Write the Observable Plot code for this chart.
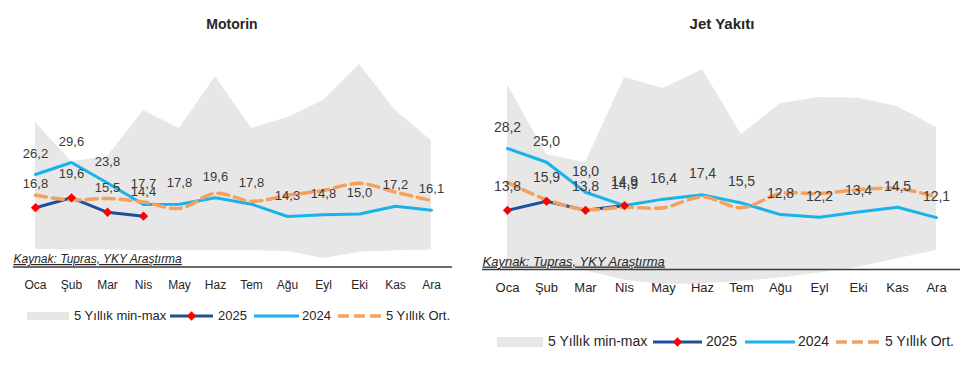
<!DOCTYPE html>
<html><head><meta charset="utf-8">
<script src="https://cdn.jsdelivr.net/npm/d3@7"></script>
<script src="https://cdn.jsdelivr.net/npm/@observablehq/plot@0.6"></script>
<style>
body{margin:0;background:#fff;font-family:"Liberation Sans",Arial,sans-serif;}
#wrap{position:relative;width:960px;height:372px;overflow:hidden;background:#fff;}
.panel{position:absolute;top:0;height:372px;width:480px;}
.title{position:absolute;top:16px;left:0;text-align:center;font-weight:bold;color:#262626;line-height:16px;}
.chart{position:absolute;top:40px;left:0;}
.kaynak text{text-decoration:underline;}
.lg{position:absolute;color:#262626;white-space:nowrap;}
</style></head>
<body><div id="wrap"></div>
<script>
const months = ["Oca","Şub","Mar","Nis","May","Haz","Tem","Ağu","Eyl","Eki","Kas","Ara"];

// Motorin
const motMin  = [5.0, 4.8, 4.8, 4.6, 4.6, 4.6, 4.6, 4.4, 2.4, 4.2, 4.6, 4.8];
const motMax  = [40.9, 29.8, 31.2, 44.3, 39.2, 54.0, 39.2, 42.3, 47.2, 57.4, 44.3, 35.8];
const mot2024 = [26.2, 29.6, 23.8, 17.7, 17.8, 19.6, 17.8, 14.3, 14.8, 15.0, 17.2, 16.1];
const mot2025 = [16.8, 19.6, 15.5, 14.4];
const motAvg  = [20.3, 19.0, 19.4, 18.4, 16.6, 20.9, 18.6, 20.3, 21.7, 23.7, 21.2, 18.8];

// Jet Yakıtı
const jetMin  = [1.0, 0.5, -0.3, -2.5, -3.5, -3.4, -2.8, -2.0, -0.8, 0.5, 2.5, 4.4];
const jetMax  = [43.1, 26.8, 24.9, 44.7, 42.2, 46.6, 31.4, 38.7, 40.1, 39.9, 38.0, 33.1];
const jet2024 = [28.2, 25.0, 18.0, 14.9, 16.4, 17.4, 15.5, 12.8, 12.2, 13.4, 14.5, 12.1];
const jet2025 = [13.8, 15.9, 13.8, 14.9];
const jetAvg  = [20.3, 16.3, 14.0, 14.5, 14.4, 16.9, 14.4, 17.7, 17.7, 18.6, 18.9, 16.9];

const titles = ["Motorin", "Jet Yakıtı"];
const source = "Kaynak: Tupras, YKY Araştırma";
const legendNames = ["5 Yıllık min-max", "2025", "2024", "5 Yıllık Ort."];

const C = {band:"#e7e7e7", s25:"#1f4f9c", mark:"#ff0000", s24:"#19b2ea", avg:"#f4a15d", axis:"#3a3a3a", text:"#3a3a3a"};
const fmt = v => v.toFixed(1).replace(".", ",");

function build(cfg) {
  const band = months.map((m,i)=>({m, lo: cfg.min[i], hi: cfg.max[i]}));
  const s24 = months.map((m,i)=>({m, v: cfg.s24[i]}));
  const s25 = cfg.s25.map((v,i)=>({m: months[i], v}));
  const avg = months.map((m,i)=>({m, v: cfg.avg[i]}));
  return Plot.plot({
    width: 480, height: 260,
    marginLeft: cfg.ml, marginRight: cfg.mr, marginTop: cfg.mt, marginBottom: cfg.mb,
    x: {type: "point", domain: months, padding: 0.5, label: null, tickSize: 0, tickPadding: cfg.tp},
    y: {domain: cfg.ydom, axis: null},
    style: {fontFamily: '"Liberation Sans", Arial, sans-serif', fontSize: cfg.axFs + "px", color: "#262626", background: "transparent", overflow: "visible"},
    marks: [
      Plot.areaY(band, {x: "m", y1: "lo", y2: "hi", fill: C.band}),
      Plot.ruleY([0], {stroke: C.axis, strokeWidth: 1.6}),
      Plot.text([source], {text: d => d, frameAnchor: "bottom-left", textAnchor: "start", dy: cfg.srcDy, fontStyle: "italic", fontSize: cfg.srcFs, fill: "#262626", className: "kaynak"}),
      Plot.line(s25, {x: "m", y: "v", stroke: C.s25, strokeWidth: 3}),
      Plot.line(s24, {x: "m", y: "v", stroke: C.s24, strokeWidth: 3}),
      Plot.line(avg, {x: "m", y: "v", stroke: C.avg, strokeWidth: 3.5, strokeDasharray: "11,6", curve: "catmull-rom"}),
      Plot.dot(s25, {x: "m", y: "v", symbol: "diamond2", r: 4.2, fill: C.mark, stroke: "none"}),
      Plot.text(s24, {x: "m", y: "v", text: d => fmt(d.v), dy: -21, fontSize: cfg.lblFs, fill: C.text}),
      Plot.text(s25, {x: "m", y: "v", text: d => fmt(d.v), dy: -24, fontSize: cfg.lblFs, fill: C.text})
    ]
  });
}

function legend(panel, L) {
  const y = L.y;
  d3.select(panel).append("div").attr("class","lg")
    .style("left", L.pos[0] + "px").style("top", (y - L.boxH/2) + "px")
    .style("width", L.boxW + "px").style("height", L.boxH + "px").style("background", C.band);
  const sw = (x, w, draw) => {
    const s = d3.select(panel).append("svg").attr("class","lg")
      .style("left", x + "px").style("top", (y - 8) + "px").attr("width", w).attr("height", 16);
    draw(s, w);
  };
  sw(L.pos[2], L.lineW[0], (s,w) => {
    s.append("line").attr("x1",0).attr("x2",w).attr("y1",8).attr("y2",8).attr("stroke",C.s25).attr("stroke-width",3);
    s.append("path").attr("d", d3.symbol(d3.symbolDiamond2, 55)()).attr("transform",`translate(${w/2},8)`).attr("fill",C.mark);
  });
  sw(L.pos[4], L.lineW[1], (s,w) => {
    s.append("line").attr("x1",0).attr("x2",w).attr("y1",8).attr("y2",8).attr("stroke",C.s24).attr("stroke-width",3);
  });
  sw(L.pos[6], L.lineW[2], (s,w) => {
    s.append("line").attr("x1",0).attr("x2",w).attr("y1",8).attr("y2",8).attr("stroke",C.avg).attr("stroke-width",3.5).attr("stroke-dasharray","11,5");
  });
  legendNames.forEach((n, i) => {
    d3.select(panel).append("div").attr("class","lg")
      .style("left", L.pos[1 + 2*i] + "px").style("top", (y - L.fs/2 - 1) + "px")
      .style("font-size", L.fs + "px").style("line-height", L.fs + "px").text(n);
  });
}

const wrap = document.getElementById("wrap");
const cfgs = [
  {left: 0, title: titles[0], tFs: 14, tW: 464, min: motMin, max: motMax, s24: mot2024, s25: mot2025, avg: motAvg,
   ml: 13, mr: 28, mt: 14.7, mb: 33.5, ydom: [0, 60], tp: 13, axFs: 12, lblFs: 13, srcFs: 12, srcDy: -4,
   leg: {y: 316, fs: 13, boxW: 42, boxH: 8, lineW: [43, 45, 43], pos: [27, 74, 170, 218, 254, 302, 338, 386]}},
  {left: 480, title: titles[1], tFs: 15, tW: 484, min: jetMin, max: jetMax, s24: jet2024, s25: jet2025, avg: jetAvg,
   ml: 2, mr: 0, mt: 14.5, mb: 31, ydom: [0, 50], tp: 13, axFs: 13, lblFs: 14, srcFs: 13, srcDy: -4,
   leg: {y: 342, fs: 14, boxW: 46, boxH: 10, lineW: [49, 50, 44], pos: [17, 68, 173, 226, 265, 318, 356, 405]}}
];

cfgs.forEach(cfg => {
  const panel = document.createElement("div");
  panel.className = "panel";
  panel.style.left = cfg.left + "px";
  wrap.appendChild(panel);
  const t = document.createElement("div");
  t.className = "title";
  t.style.width = cfg.tW + "px";
  t.style.fontSize = cfg.tFs + "px";
  t.textContent = cfg.title;
  panel.appendChild(t);
  const chart = build(cfg);
  chart.classList.add("chart");
  chart.style.position = "absolute";
  chart.style.top = "40px";
  chart.style.left = "0px";
  panel.appendChild(chart);
  legend(panel, cfg.leg);
});
</script>
</body></html>
